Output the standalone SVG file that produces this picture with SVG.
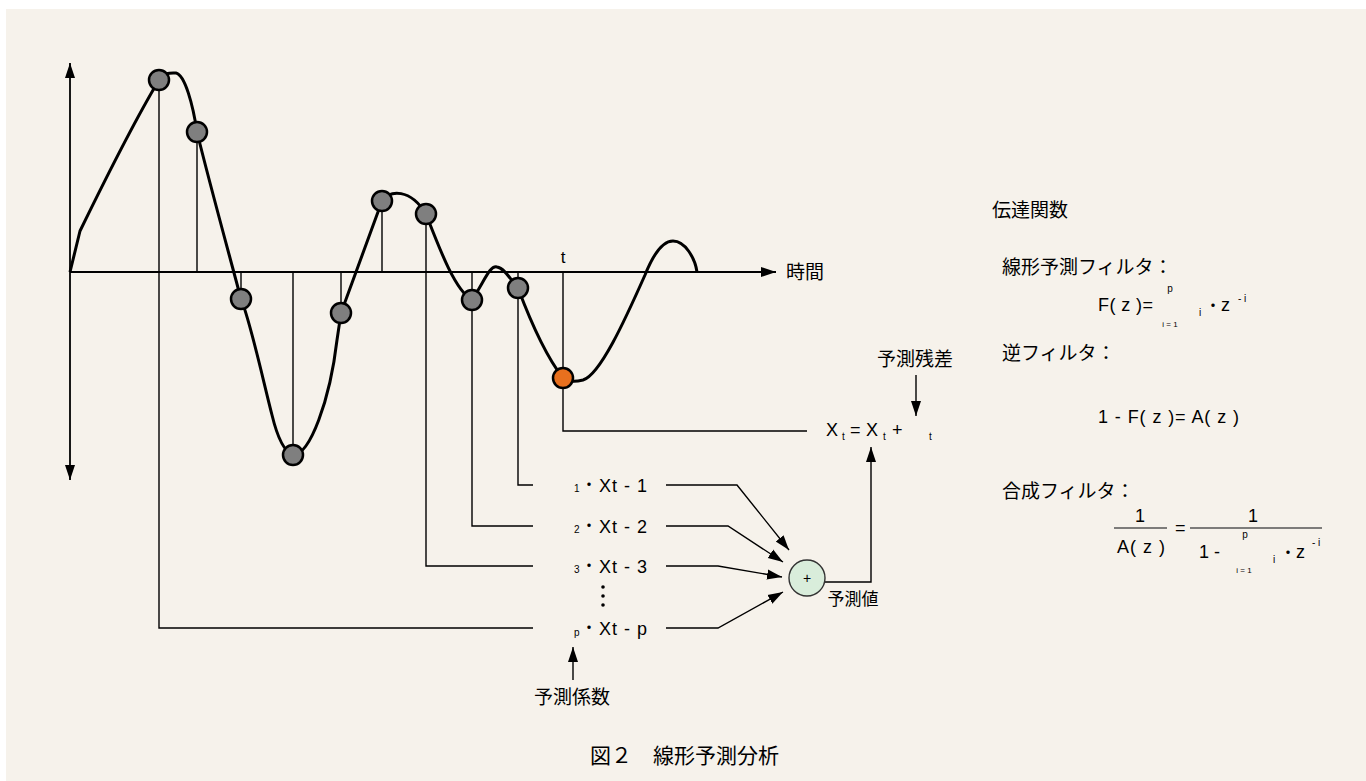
<svg xmlns="http://www.w3.org/2000/svg" width="1366" height="781" viewBox="0 0 1366 781">
<defs>
<style>
.ln{stroke:#000;stroke-width:1.4;fill:none}
.ax{stroke:#000;stroke-width:1.8;fill:none}
.cv{stroke:#000;stroke-width:3;fill:none;stroke-linejoin:round}
.pt{fill:#7f7f7f;stroke:#000;stroke-width:2.5}
.or{fill:#e8701e;stroke:#000;stroke-width:2.5}
.tx{font-family:"Liberation Sans",Arial,sans-serif;fill:#000}
.jp{font-family:"Noto Sans CJK JP","Noto Sans CJK SC",sans-serif;fill:#000}
.sm{font-size:10px}
.md{font-size:18px}
</style>
<marker id="ah" markerUnits="userSpaceOnUse" markerWidth="16" markerHeight="12" viewBox="0 0 16 12" refX="15" refY="6" orient="auto">
<path d="M0,1 L15,6 L0,11 Z" fill="#000"/>
</marker>
</defs>
<rect x="6" y="9" width="1360" height="772" fill="#f6f2eb"/>

<g id="axes">
<line class="ax" x1="70" y1="272" x2="70" y2="63" marker-end="url(#ah)"/>
<line class="ax" x1="70" y1="272" x2="70" y2="480" marker-end="url(#ah)"/>
<line class="ax" x1="70" y1="272" x2="776" y2="272" marker-end="url(#ah)"/>
<text class="jp" x="786" y="279" font-size="19">時間</text>
<text class="tx" x="563" y="263" font-size="17" text-anchor="middle">t</text>
</g>

<g id="connectors">
<polyline class="ln" points="159,80 159,628 533,628"/>
<line class="ln" x1="197" y1="132" x2="197" y2="272"/>
<line class="ln" x1="241" y1="272" x2="241" y2="299"/>
<line class="ln" x1="293" y1="272" x2="293" y2="455"/>
<line class="ln" x1="341" y1="272" x2="341" y2="313"/>
<line class="ln" x1="382" y1="201" x2="382" y2="272"/>
<polyline class="ln" points="426,214 426,566 533,566"/>
<polyline class="ln" points="472,272 472,526 533,526"/>
<polyline class="ln" points="518,272 518,485 533,485"/>
<polyline class="ln" points="563,272 563,431 807,431"/>
<polyline class="ln" points="666,485 737,485 789,550" marker-end="url(#ah)"/>
<polyline class="ln" points="666,526 728,526 783,562" marker-end="url(#ah)"/>
<polyline class="ln" points="666,566 718,566 782,577" marker-end="url(#ah)"/>
<polyline class="ln" points="666,628 718,628 783,592" marker-end="url(#ah)"/>
<polyline class="ln" points="825,582 871,582 871,447" marker-end="url(#ah)"/>
<line class="ln" x1="916" y1="375" x2="916" y2="416" marker-end="url(#ah)"/>
<line class="ln" x1="573" y1="680" x2="573" y2="647" marker-end="url(#ah)"/>
</g>

<g id="signal">
<path class="cv" d="M70,272 L80,231 C100,190 135,120 159,80 C165,72 170,73 176,73 C185,75 193,105 197,132 C210,185 228,250 241,299 C250,320 263,380 272,415 C278,440 285,452 293,455 C310,455 330,400 337,340 L341,313 L382,201 C390,190 410,188 426,214 C440,250 455,290 472,300 C485,280 490,265 497,267 C505,268 512,282 518,288 C530,320 545,355 563,378 C568,382 575,382 583,380 C600,375 625,320 645,275 C655,250 665,241 673,241 C685,241 695,258 697,272"/>
<circle class="pt" cx="159" cy="80" r="10"/>
<circle class="pt" cx="197" cy="132" r="10"/>
<circle class="pt" cx="241" cy="299" r="10"/>
<circle class="pt" cx="293" cy="455" r="10"/>
<circle class="pt" cx="341" cy="313" r="10"/>
<circle class="pt" cx="382" cy="201" r="10"/>
<circle class="pt" cx="426" cy="214" r="10"/>
<circle class="pt" cx="472" cy="300" r="10"/>
<circle class="pt" cx="518" cy="288" r="10"/>
<circle class="or" cx="563" cy="378" r="10"/>
</g>

<g id="terms">
<text class="tx sm" x="574" y="492">1</text>
<text class="jp" x="589" y="490" font-size="16" text-anchor="middle">・</text>
<text class="tx md" x="599" y="492" textLength="48">Xt - 1</text>
<text class="tx sm" x="574" y="533">2</text>
<text class="jp" x="589" y="531" font-size="16" text-anchor="middle">・</text>
<text class="tx md" x="599" y="533" textLength="48">Xt - 2</text>
<text class="tx sm" x="574" y="573">3</text>
<text class="jp" x="589" y="571" font-size="16" text-anchor="middle">・</text>
<text class="tx md" x="599" y="573" textLength="48">Xt - 3</text>
<circle cx="603" cy="587" r="1.8" fill="#000"/>
<circle cx="603" cy="596" r="1.8" fill="#000"/>
<circle cx="603" cy="605" r="1.8" fill="#000"/>
<text class="tx sm" x="574" y="636">p</text>
<text class="jp" x="589" y="633" font-size="16" text-anchor="middle">・</text>
<text class="tx md" x="599" y="635" textLength="48">Xt - p</text>
<text class="jp" x="572" y="704" font-size="19" text-anchor="middle">予測係数</text>
</g>

<g id="sum">
<circle cx="807" cy="578" r="18" fill="#d9eddb" stroke="#333" stroke-width="1.4"/>
<text class="tx" x="807" y="583" font-size="14" text-anchor="middle">+</text>
<text class="jp" x="853" y="605" font-size="17" text-anchor="middle">予測値</text>
</g>

<g id="residual">
<text class="jp" x="915" y="366" font-size="19" text-anchor="middle">予測残差</text>
<text class="tx md" x="826" y="436">X</text>
<text class="tx sm" x="842" y="440">t</text>
<text class="tx md" x="850" y="436">=</text>
<text class="tx md" x="866" y="436">X</text>
<text class="tx sm" x="883" y="440">t</text>
<text class="tx md" x="892" y="436">+</text>
<text class="tx sm" x="929" y="440">t</text>
</g>

<g id="transfer">
<text class="jp" x="992" y="217" font-size="19">伝達関数</text>
<text class="jp" x="1002" y="274" font-size="19">線形予測フィルタ：</text>
<text class="tx md" x="1098" y="311" textLength="55">F( z )=</text>
<text class="tx sm" x="1170" y="292" text-anchor="middle">p</text>
<text class="tx" x="1170" y="327" font-size="8" text-anchor="middle">i = 1</text>
<text class="tx sm" x="1199" y="316">i</text>
<text class="jp" x="1213" y="311" font-size="16" text-anchor="middle">・</text>
<text class="tx md" x="1221" y="311">z</text>
<text class="tx sm" x="1238" y="302">- i</text>

<text class="jp" x="1002" y="360" font-size="19">逆フィルタ：</text>
<text class="tx md" x="1098" y="423" textLength="141">1 - F( z )= A( z )</text>

<text class="jp" x="1002" y="498" font-size="19">合成フィルタ：</text>
<text class="tx md" x="1140" y="522" text-anchor="middle">1</text>
<line x1="1114" y1="528" x2="1167" y2="528" stroke="#555" stroke-width="1.3"/>
<text class="tx md" x="1117" y="553" textLength="48">A( z )</text>
<text class="tx md" x="1175" y="534">=</text>
<line x1="1190" y1="528" x2="1322" y2="528" stroke="#555" stroke-width="1.3"/>
<text class="tx md" x="1253" y="522" text-anchor="middle">1</text>
<text class="tx md" x="1199" y="558">1 -</text>
<text class="tx sm" x="1245" y="538" text-anchor="middle">p</text>
<text class="tx" x="1244" y="573" font-size="8" text-anchor="middle">i = 1</text>
<text class="tx sm" x="1273" y="563">i</text>
<text class="jp" x="1288" y="558" font-size="16" text-anchor="middle">・</text>
<text class="tx md" x="1296" y="558">z</text>
<text class="tx sm" x="1312" y="546">- i</text>
</g>

<g id="caption">
<text class="jp" x="590" y="763" font-size="21">図２　線形予測分析</text>
</g>
</svg>
